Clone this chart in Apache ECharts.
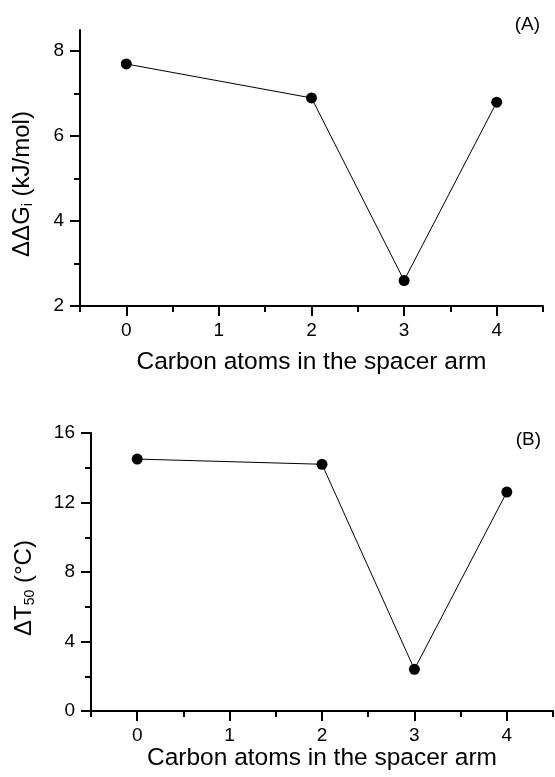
<!DOCTYPE html>
<html>
<head>
<meta charset="utf-8">
<script src="https://cdn.jsdelivr.net/npm/echarts@6/dist/echarts.min.js"></script>
<style>
html,body{margin:0;padding:0;background:#fff;}
#chart{width:555px;height:777px;}
</style>
</head>
<body>
<div id="chart"></div>
<script>
// ---- data ----
const carbonAtoms = [0, 2, 3, 4];
const deltaDeltaGi = [7.7, 6.9, 2.6, 6.8];
const deltaT50 = [14.5, 14.2, 2.4, 12.6];

// ---- tick values ----
const xMajorTicks = [0, 1, 2, 3, 4];
const xMinorTicks = [-0.5, 0.5, 1.5, 2.5, 3.5, 4.5];
const yAMajorTicks = [2, 4, 6, 8];
const yAMinorTicks = [3, 5, 7];
const yBMajorTicks = [0, 4, 8, 12, 16];
const yBMinorTicks = [2, 6, 10, 14];

const xTitle = 'Carbon atoms in the spacer arm';
const FONT = 'Liberation Sans, Arial, Helvetica, sans-serif';
const INK = '#000';

const chart = echarts.init(document.getElementById('chart'), null, {renderer: 'canvas'});

function majorAxis(extra) {
  return Object.assign({
    type: 'value',
    axisLine: {show: true, onZero: false, lineStyle: {color: INK, width: 2}},
    axisTick: {show: true, inside: false, length: 10, lineStyle: {color: INK, width: 2}},
    axisLabel: {show: true, color: INK, fontSize: 19, fontFamily: FONT},
    splitLine: {show: false}
  }, extra);
}
function minorAxis(extra) {
  return Object.assign({
    type: 'value',
    axisLine: {show: false, onZero: false},
    axisTick: {show: true, inside: false, length: 6, lineStyle: {color: INK, width: 2}},
    axisLabel: {show: false},
    splitLine: {show: false}
  }, extra);
}

const pairs = (xs, ys) => xs.map((x, i) => [x, ys[i]]);

const richName = {
  m: {fontSize: 24, fontFamily: FONT, color: INK, lineHeight: 26},
  s: {fontSize: 14, fontFamily: FONT, color: INK, lineHeight: 10, verticalAlign: 'bottom'}
};

const option = {
  backgroundColor: '#fff',
  animation: false,
  grid: [
    {left: 80, right: 12, top: 30, bottom: 471},
    {left: 91, right: 2, top: 433, bottom: 66}
  ],
  xAxis: [
    majorAxis({gridIndex: 0, position: 'bottom', min: -0.5, max: 4.5,
      axisTick: {show: true, length: 10, customValues: xMajorTicks, lineStyle: {color: INK, width: 2}},
      axisLabel: {show: true, customValues: xMajorTicks, margin: 15, color: INK, fontSize: 19, fontFamily: FONT},
      name: xTitle, nameLocation: 'middle', nameGap: 44,
      nameTextStyle: {fontSize: 24.5, fontFamily: FONT, color: INK, verticalAlign: 'top'}}),
    minorAxis({gridIndex: 0, position: 'bottom', min: -0.5, max: 4.5,
      axisTick: {show: true, length: 6, customValues: xMinorTicks, lineStyle: {color: INK, width: 2}}}),
    majorAxis({gridIndex: 1, position: 'bottom', min: -0.5, max: 4.5,
      axisTick: {show: true, length: 10, customValues: xMajorTicks, lineStyle: {color: INK, width: 2}},
      axisLabel: {show: true, customValues: xMajorTicks, margin: 15, color: INK, fontSize: 19, fontFamily: FONT},
      name: xTitle, nameLocation: 'middle', nameGap: 35,
      nameTextStyle: {fontSize: 24.5, fontFamily: FONT, color: INK, verticalAlign: 'top'}}),
    minorAxis({gridIndex: 1, position: 'bottom', min: -0.5, max: 4.5,
      axisTick: {show: true, length: 6, customValues: xMinorTicks, lineStyle: {color: INK, width: 2}}})
  ],
  yAxis: [
    majorAxis({gridIndex: 0, position: 'left', min: 2, max: 8.5,
      axisTick: {show: true, length: 10, customValues: yAMajorTicks, lineStyle: {color: INK, width: 2}},
      axisLabel: {show: true, customValues: yAMajorTicks, margin: 16, color: INK, fontSize: 19, fontFamily: FONT},
      name: '{m|ΔΔG}{s|i}{m| (kJ/mol)}', nameLocation: 'middle', nameGap: 45,
      nameTextStyle: {fontSize: 24, fontFamily: FONT, color: INK, padding: [0, 32, 0, 0], rich: richName}}),
    minorAxis({gridIndex: 0, position: 'left', min: 2, max: 8.5,
      axisTick: {show: true, length: 6, customValues: yAMinorTicks, lineStyle: {color: INK, width: 2}}}),
    majorAxis({gridIndex: 1, position: 'left', min: 0, max: 16,
      axisTick: {show: true, length: 10, customValues: yBMajorTicks, lineStyle: {color: INK, width: 2}},
      axisLabel: {show: true, customValues: yBMajorTicks, margin: 16, color: INK, fontSize: 19, fontFamily: FONT},
      name: '{m|ΔT}{s|50}{m| (°C)}', nameLocation: 'middle', nameGap: 54,
      nameTextStyle: {fontSize: 24, fontFamily: FONT, color: INK, padding: [0, 32, 0, 0], rich: richName}}),
    minorAxis({gridIndex: 1, position: 'left', min: 0, max: 16,
      axisTick: {show: true, length: 6, customValues: yBMinorTicks, lineStyle: {color: INK, width: 2}}})
  ],
  series: [
    {type: 'line', xAxisIndex: 0, yAxisIndex: 0, data: pairs(carbonAtoms, deltaDeltaGi),
     symbol: 'circle', symbolSize: 11, itemStyle: {color: INK}, lineStyle: {color: INK, width: 1}},
    {type: 'line', xAxisIndex: 2, yAxisIndex: 2, data: pairs(carbonAtoms, deltaT50),
     symbol: 'circle', symbolSize: 11, itemStyle: {color: INK}, lineStyle: {color: INK, width: 1}}
  ],
  graphic: [
    {type: 'text', right: 15, top: 15, style: {text: '(A)', fontSize: 19, fontFamily: FONT, fill: INK}},
    {type: 'text', right: 14, top: 430, style: {text: '(B)', fontSize: 19, fontFamily: FONT, fill: INK}}
  ]
};
chart.setOption(option);
</script>
</body>
</html>
